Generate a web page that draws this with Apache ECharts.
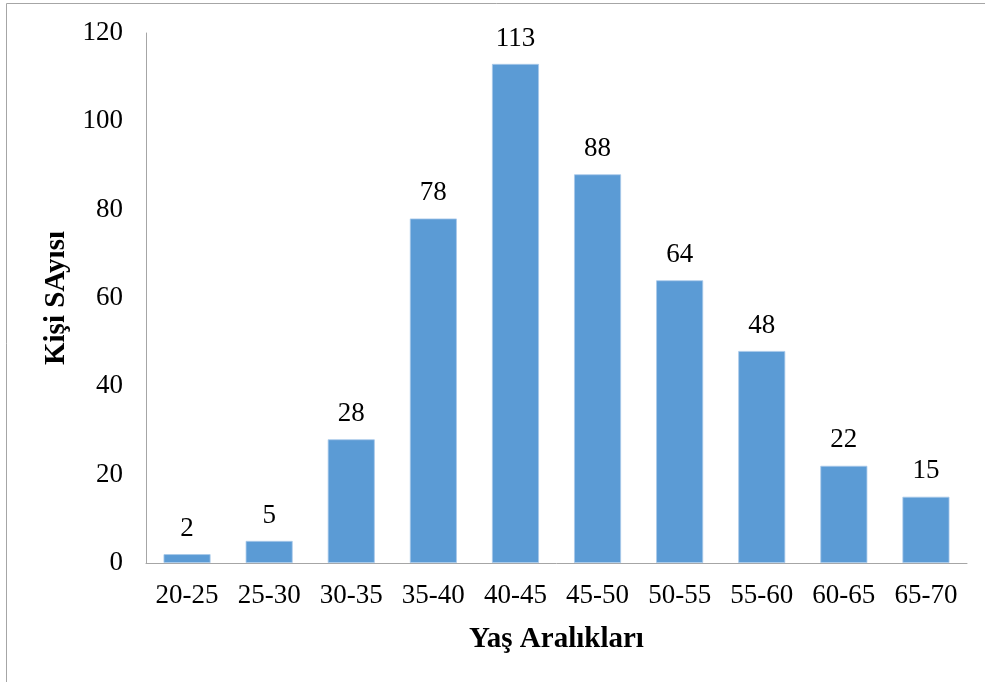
<!DOCTYPE html>
<html><head><meta charset="utf-8">
<script src="https://cdn.jsdelivr.net/npm/echarts@6/dist/echarts.min.js"></script>
<style>html,body{margin:0;padding:0;background:#fff}#c{width:985px;height:682px}</style>
</head><body><div id="c"></div>
<script>
const categories = ['20-25','25-30','30-35','35-40','40-45','45-50','50-55','55-60','60-65','65-70'];
const values = [2,5,28,78,113,88,64,48,22,15];
const yTicks = [0,20,40,60,80,100,120];
const xTitle = 'Yaş Aralıkları';
const yTitle = 'Kişi SAyısı';

const font = '"Liberation Serif","Times New Roman",serif';
const chart = echarts.init(document.getElementById('c'));
chart.setOption({
  animation:false,
  graphic:[{type:'rect',shape:{x:6.5,y:3.5,width:1100,height:800},style:{fill:'none',stroke:'#a6a6a6',lineWidth:1}}],
  grid:{left:146,right:18,top:33,bottom:119},
  xAxis:{type:'category',data:categories,
    name:xTitle,nameLocation:'middle',nameGap:62,
    nameTextStyle:{fontFamily:font,fontSize:29,fontWeight:'bold',color:'#000'},
    axisLine:{lineStyle:{color:'#a6a6a6',width:1}},axisTick:{show:false},
    axisLabel:{fontFamily:font,fontSize:27,color:'#000',margin:19}},
  yAxis:{type:'value',min:yTicks[0],max:yTicks[yTicks.length-1],interval:20,
    name:yTitle,nameLocation:'middle',nameGap:75,
    nameTextStyle:{fontFamily:font,fontSize:29,fontWeight:'bold',color:'#000'},
    axisLine:{show:true,lineStyle:{color:'#a6a6a6',width:1}},axisTick:{show:false},splitLine:{show:false},
    axisLabel:{fontFamily:font,fontSize:27,color:'#000',margin:23}},
  series:[{type:'bar',data:values,barWidth:47,
    itemStyle:{color:'#5b9bd5',borderColor:'#a9c9ea',borderWidth:0.8},
    label:{show:true,position:'top',distance:12,fontFamily:font,fontSize:27,color:'#000'}}]
});
</script></body></html>
